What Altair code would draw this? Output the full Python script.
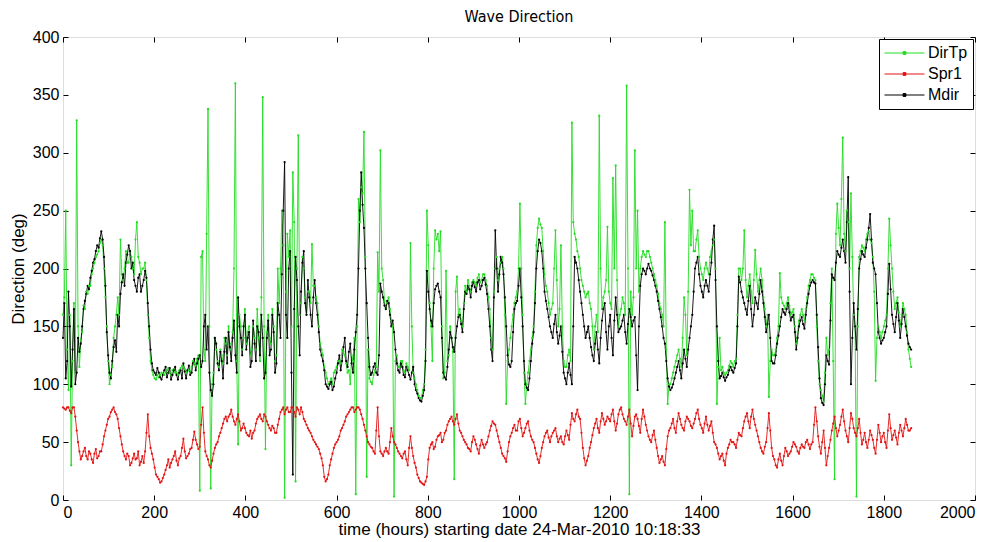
import altair as alt
import pandas as pd

# samples: values at hours 0, 6, 12, ... (main)
# and at the hours in between, 3, 9, 15, ... (mid)
main_hours = list(range(0, 1861, 6))
mid_hours = list(range(3, 1860, 6))

mdir = [
    140, 105, 180, 98, 165, 110, 128, 150, 172, 185,
    192, 205, 215, 218, 232, 210, 145, 110, 120, 138,
    160, 178, 195, 205, 220, 200, 190, 180, 195, 185,
    198, 170, 130, 112, 108, 110, 104, 112, 106, 114,
    108, 115, 104, 112, 118, 105, 116, 110, 122, 118,
    125, 120, 160, 150, 95, 100, 135, 112, 120, 128,
    118, 132, 140, 125, 175, 140, 150, 130, 145, 120,
    135, 150, 125, 140, 110, 155, 130, 145, 118, 160,
    195, 292, 140, 215, 22, 210, 150, 180, 215, 160,
    175, 150, 190, 160, 130, 120, 100, 96, 102, 98,
    110, 125, 120, 140, 115, 135, 110, 145, 200, 283,
    235, 170, 115, 110, 118, 108, 187, 175, 165, 170,
    150, 145, 118, 110, 115, 106, 112, 104, 115, 95,
    88, 85, 95, 198, 165, 150, 182, 187, 175, 110,
    104, 130, 140, 128, 150, 160, 145, 180, 185, 175,
    188, 180, 190, 185, 192, 178, 150, 120, 233, 180,
    210, 195, 150, 117, 120, 165, 172, 200, 150, 100,
    95, 120, 145, 200, 225, 215, 180, 165, 150, 140,
    160, 135, 150, 110, 100, 118, 100, 210, 200, 180,
    160, 140, 150, 132, 120, 145, 118, 155, 170, 130,
    160, 125, 175, 145, 150, 160, 135, 165, 150, 158,
    95, 185, 200, 195, 204, 198, 190, 180, 165, 150,
    135, 105, 95, 100, 110, 120, 105, 130, 115, 140,
    160, 200, 210, 185, 175, 190, 180, 205, 237, 150,
    105, 110, 103, 108, 115, 110, 118, 193, 180, 170,
    160, 185, 150, 175, 165, 190, 170, 145, 160, 120,
    118, 135, 150, 165, 160, 170, 155, 160, 130, 150,
    158, 148, 170, 185, 190, 187, 132, 88, 82, 125,
    117, 195, 190, 215, 210, 225, 205, 279, 100, 170,
    130, 200, 215, 210, 225, 247, 205, 195, 145, 135,
    140, 150, 204, 160, 145, 170, 140, 165, 150, 135, 130,
]
mdir_mid = [
    170, 120, 150, 130, 100, 140, 135, 165, 178, 182,
    198, 208, 220, 226, 225, 185, 125, 105, 132, 128,
    150, 188, 185, 212, 215, 205, 185, 192, 180, 190,
    192, 150, 118, 110, 114, 106, 108, 115, 110, 104,
    112, 108, 110, 105, 111, 112, 108, 118, 112, 122,
    115, 150, 130, 110, 90, 140, 118, 128, 105, 140,
    145, 120, 155, 110, 150, 125, 160, 140, 115, 155,
    120, 145, 160, 105, 140, 125, 160, 110, 170, 140,
    250, 160, 200, 110, 165, 190, 125, 205, 170, 190,
    160, 175, 170, 145, 125, 112, 98, 100, 95, 105,
    118, 112, 132, 120, 128, 118, 130, 160, 250, 255,
    200, 140, 108, 115, 110, 125, 180, 168, 172, 160,
    155, 130, 112, 118, 108, 115, 108, 110, 100, 92,
    86, 90, 120, 180, 155, 170, 185, 180, 140, 106,
    115, 145, 132, 140, 158, 152, 165, 178, 182, 185,
    184, 188, 182, 190, 186, 165, 130, 175, 200, 195,
    205, 175, 125, 115, 145, 170, 185, 175, 120, 97,
    105, 135, 170, 215, 222, 200, 172, 158, 145, 152,
    145, 142, 128, 105, 110, 108, 150, 205, 190, 170,
    150, 145, 140, 125, 135, 130, 140, 165, 145, 150,
    140, 155, 160, 148, 155, 145, 152, 158, 155, 125,
    150, 195, 198, 200, 200, 194, 185, 172, 158, 140,
    120, 98, 97, 105, 115, 112, 118, 122, 130, 150,
    180, 205, 195, 180, 185, 185, 195, 225, 190, 120,
    107, 106, 106, 112, 112, 114, 150, 188, 175, 165,
    172, 165, 160, 170, 178, 180, 158, 152, 140, 118,
    125, 142, 158, 162, 165, 162, 158, 145, 140, 155,
    152, 160, 178, 188, 188, 160, 105, 84, 100, 120,
    155, 192, 205, 212, 218, 215, 240, 180, 140, 150,
    165, 208, 212, 218, 235, 225, 200, 170, 140, 138,
    145, 178, 182, 152, 158, 155, 152, 158, 142, 132,
]

dirtp = [
    160, 250, 95, 30, 170, 328, 115, 145, 165, 178,
    185, 200, 210, 215, 225, 200, 150, 100, 115, 150,
    175, 225, 190, 215, 205, 210, 195, 240, 205, 200,
    205, 160, 120, 108, 104, 106, 110, 108, 112, 110,
    112, 110, 108, 114, 115, 110, 112, 115, 118, 122,
    8, 215, 120, 338, 10, 110, 130, 115, 125, 140,
    125, 130, 145, 360, 48, 150, 140, 135, 150, 130,
    140, 165, 120, 348, 44, 160, 135, 150, 125, 170,
    250, 2, 230, 233, 283, 16, 315, 170, 200, 160,
    180, 221, 185, 170, 135, 125, 110, 100, 105, 110,
    115, 120, 130, 125, 110, 100, 120, 5, 260, 270,
    318, 20, 105, 100, 112, 214, 302, 190, 165, 175,
    155, 3, 125, 115, 120, 110, 115, 222, 110, 100,
    90, 88, 100, 250, 170, 120, 233, 230, 232, 105,
    198, 125, 140, 18, 193, 165, 150, 185, 190, 180,
    190, 185, 195, 190, 195, 185, 165, 130, 200, 190,
    205, 200, 83, 130, 150, 170, 180, 256, 160, 83,
    110, 130, 150, 220, 243, 235, 195, 180, 160, 170,
    233, 150, 220, 120, 115, 130, 326, 230, 215, 200,
    185, 175, 180, 165, 130, 160, 332, 165, 180, 236,
    170, 278, 289, 150, 165, 170, 358, 5, 160, 302,
    250, 200, 215, 210, 215, 205, 195, 185, 170, 160,
    240, 83, 100, 110, 120, 130, 115, 175, 125, 268,
    250, 215, 233, 200, 190, 205, 195, 215, 225, 83,
    140, 115, 108, 112, 120, 115, 122, 200, 190, 233,
    175, 195, 170, 216, 180, 200, 175, 150, 89, 130,
    125, 140, 196, 170, 165, 175, 160, 165, 135, 155,
    165, 155, 175, 190, 195, 190, 120, 95, 85, 140,
    130, 200, 18, 256, 220, 313, 215, 240, 265, 160,
    3, 210, 220, 215, 230, 225, 210, 103, 150, 140,
    150, 160, 243, 200, 165, 175, 150, 170, 160, 130, 115,
]
dirtp_mid = [
    175, 130, 160, 120, 110, 150, 138, 168, 180, 185,
    195, 205, 212, 222, 220, 175, 120, 108, 140, 160,
    160, 195, 200, 205, 215, 200, 225, 210, 195, 200,
    190, 140, 112, 105, 108, 108, 109, 110, 114, 108,
    113, 110, 112, 116, 113, 112, 110, 120, 116, 125,
    210, 130, 230, 150, 100, 140, 120, 130, 118, 135,
    150, 135, 200, 120, 160, 130, 165, 145, 125, 150,
    130, 140, 175, 150, 145, 140, 165, 120, 200, 200,
    220, 180, 210, 150, 240, 200, 160, 210, 175, 180,
    170, 185, 175, 150, 130, 115, 105, 102, 100, 112,
    120, 118, 128, 118, 112, 125, 140, 150, 240, 265,
    210, 130, 102, 108, 115, 180, 200, 172, 170, 165,
    150, 120, 115, 120, 112, 118, 112, 150, 105, 95,
    88, 95, 130, 220, 150, 200, 225, 215, 150, 110,
    120, 150, 128, 180, 160, 155, 170, 180, 185, 188,
    188, 192, 188, 195, 190, 175, 140, 180, 210, 200,
    210, 160, 120, 140, 160, 175, 200, 200, 110, 100,
    120, 140, 180, 235, 238, 215, 185, 170, 165, 200,
    190, 165, 150, 115, 125, 120, 240, 225, 210, 190,
    180, 178, 170, 150, 150, 145, 200, 175, 190, 180,
    165, 200, 190, 160, 175, 160, 200, 180, 175, 200,
    180, 210, 212, 215, 210, 200, 190, 178, 165, 150,
    130, 100, 105, 115, 125, 122, 140, 160, 180, 220,
    215, 225, 210, 195, 200, 200, 210, 220, 200, 115,
    112, 110, 110, 116, 118, 120, 160, 200, 200, 190,
    185, 180, 190, 195, 190, 190, 165, 160, 120, 125,
    130, 150, 175, 168, 170, 168, 162, 150, 145, 160,
    160, 165, 185, 195, 192, 150, 100, 90, 110, 125,
    170, 120, 230, 235, 260, 230, 250, 200, 210, 150,
    150, 215, 218, 225, 232, 222, 180, 140, 145, 145,
    155, 200, 220, 180, 170, 162, 160, 165, 145, 122,
]

spr1 = [
    80, 78, 80, 75, 80, 60, 42, 38, 45, 35,
    40, 32, 44, 38, 42, 55, 65, 72, 78, 76,
    70, 55, 42, 35, 38, 32, 40, 36, 30, 38,
    42, 74, 45, 35, 22, 18, 16, 22, 30, 28,
    35, 42, 30, 38, 53, 36, 40, 45, 59, 48,
    46, 80, 42, 35, 28, 40, 48, 55, 62, 70,
    68, 74, 72, 65, 74, 60, 66, 58, 55, 53,
    60, 70, 74, 68, 72, 65, 60, 62, 58, 70,
    78, 74, 80, 76, 80, 72, 78, 80, 70, 65,
    60, 55, 50, 46, 40, 30, 16, 22, 35, 45,
    50, 55, 62, 68, 74, 78, 80, 78, 80, 74,
    65, 55, 48, 45, 40, 80, 42, 38, 45, 40,
    62, 50, 45, 40, 36, 42, 30, 55, 38, 28,
    19, 15, 13, 20, 45, 50, 46, 55, 58, 52,
    60, 68, 72, 65, 74, 60, 55, 50, 45, 42,
    55, 48, 40, 52, 45, 50, 60, 68, 65, 55,
    45, 38, 33, 50, 58, 65, 60, 70, 55, 62,
    68, 55, 50, 40, 32, 45, 55, 60, 50, 58,
    62, 50, 55, 48, 60, 52, 75, 68, 78, 70,
    45, 30, 38, 50, 62, 70, 58, 75, 65, 72,
    68, 78, 60, 74, 80, 70, 65, 78, 55, 72,
    70, 58, 78, 65, 55, 50, 60, 45, 32, 38,
    30, 55, 62, 70, 58, 75, 65, 60, 72, 68,
    62, 70, 78, 65, 58, 72, 60, 68, 50, 45,
    35, 40, 30, 45, 52, 50, 45, 58, 55, 68,
    75, 62, 78, 65, 55, 45, 40, 50, 75, 45,
    35, 28, 40, 30, 45, 38, 42, 50, 46, 40,
    48, 45, 52, 44, 50, 80, 55, 40, 60, 30,
    45, 60, 72, 55, 65, 78, 60, 50, 75, 62,
    55, 70, 48, 58, 45, 60, 52, 40, 65, 50,
    58, 45, 74, 52, 60, 48, 65, 55, 70, 60, 62,
]
spr1_mid = [
    79, 80, 77, 80, 72, 50, 35, 42, 38, 42,
    35, 40, 36, 42, 48, 60, 70, 76, 80, 74,
    62, 48, 38, 40, 30, 36, 35, 42, 33, 32,
    58, 55, 40, 28, 20, 15, 19, 26, 35, 32,
    38, 34, 36, 45, 42, 38, 44, 52, 52, 44,
    65, 58, 38, 30, 34, 45, 50, 58, 66, 72,
    72, 78, 68, 70, 68, 62, 62, 56, 60, 58,
    66, 72, 70, 74, 68, 62, 64, 58, 65, 76,
    80, 78, 76, 80, 76, 80, 74, 76, 68, 62,
    58, 52, 48, 44, 36, 20, 18, 30, 40, 48,
    52, 60, 65, 72, 76, 80, 76, 80, 78, 70,
    60, 50, 46, 42, 60, 55, 40, 42, 42, 50,
    55, 48, 42, 38, 40, 35, 45, 45, 32, 22,
    16, 14, 16, 35, 48, 44, 52, 56, 50, 58,
    65, 70, 68, 70, 66, 58, 52, 48, 44, 50,
    52, 44, 47, 48, 48, 55, 64, 66, 60, 50,
    40, 36, 42, 55, 62, 60, 68, 62, 58, 66,
    60, 52, 45, 35, 38, 50, 58, 54, 55, 60,
    55, 53, 50, 55, 56, 65, 70, 74, 72, 58,
    36, 34, 45, 56, 66, 62, 68, 70, 68, 70,
    74, 68, 66, 78, 74, 68, 72, 66, 64, 74,
    64, 70, 72, 60, 52, 56, 52, 38, 35, 33,
    44, 60, 66, 62, 68, 70, 62, 68, 70, 64,
    66, 75, 70, 62, 66, 65, 64, 58, 48, 40,
    38, 34, 40, 48, 50, 48, 52, 56, 62, 72,
    68, 72, 70, 60, 50, 42, 46, 62, 60, 38,
    30, 35, 34, 38, 42, 40, 46, 48, 42, 45,
    46, 50, 48, 48, 65, 68, 46, 50, 45, 38,
    52, 66, 62, 60, 72, 68, 55, 62, 70, 58,
    62, 58, 52, 50, 52, 56, 45, 52, 58, 55,
    50, 60, 62, 56, 54, 58, 60, 62, 65, 60,
]

series_names = ["DirTp", "Spr1", "Mdir"]
series_colors = ["#22dd22", "#e41414", "#000000"]
x_ticks = [0, 200, 400, 600, 800, 1000, 1200, 1400, 1600, 1800, 2000]
y_ticks = [0, 50, 100, 150, 200, 250, 300, 350, 400]

rows = []
for name, vals, mids in zip(series_names, [dirtp, spr1, mdir], [dirtp_mid, spr1_mid, mdir_mid]):
    for h, v in zip(main_hours, vals):
        rows.append({"hour": h, "value": v, "series": name})
    for h, v in zip(mid_hours, mids):
        rows.append({"hour": h, "value": v, "series": name})
df = pd.DataFrame(rows).sort_values(["series", "hour"]).reset_index(drop=True)

FONT = "Liberation Sans"
NARROW = "Liberation Sans Narrow, Arial Narrow, DejaVu Sans Condensed, Liberation Sans"

xscale = alt.Scale(domain=[0, 2000], nice=False, zero=False)
yscale = alt.Scale(domain=[0, 400], nice=False)

base = alt.Chart(df)

legend_symbol = "M-1,0H1M-0.07,-0.07H0.07V0.07H-0.07Z"

lines = base.mark_line(strokeWidth=0.9, point=alt.OverlayMarkDef(size=5, filled=True)).encode(
    x=alt.X("hour:Q", scale=xscale,
            axis=alt.Axis(values=x_ticks, format="d", orient="bottom", grid=False, domain=False,
                          offset=-5, tickSize=5, tickColor="black", labelPadding=4,
                          labelFontSize=16, labelColor="black", labelFont=FONT,
                          title="time (hours) starting date 24-Mar-2010 10:18:33",
                          titleFontSize=17, titleFontWeight="normal", titleColor="black",
                          titleFont=FONT, titlePadding=1)),
    y=alt.Y("value:Q", scale=yscale,
            axis=alt.Axis(values=y_ticks, format="d", orient="left", grid=False, domain=False,
                          offset=-5, tickSize=5, tickColor="black", labelPadding=4,
                          labelFontSize=16, labelColor="black", labelFont=FONT,
                          title="Direction (deg)", titleFontSize=17, titleFontWeight="normal",
                          titleColor="black", titleFont=FONT, titlePadding=5)),
    color=alt.Color("series:N",
                    scale=alt.Scale(domain=series_names, range=series_colors),
                    legend=alt.Legend(title=None, orient="top-right", offset=2,
                                      symbolType=legend_symbol, symbolSize=1600,
                                      symbolStrokeWidth=1, labelFontSize=16,
                                      labelFont=FONT, labelColor="black",
                                      strokeColor="black", fillColor="white",
                                      padding=5, rowPadding=3, clipHeight=18,
                                      labelOffset=3)),
    order="hour:Q",
    detail="series:N",
)

frame_axes = base.mark_line(opacity=0).encode(
    x=alt.X("hour:Q", scale=xscale,
            axis=alt.Axis(values=x_ticks, orient="top", grid=False, domain=False,
                          offset=-5, tickSize=5, tickColor="black", labels=False, title=None)),
    y=alt.Y("value:Q", scale=yscale,
            axis=alt.Axis(values=y_ticks, orient="right", grid=False, domain=False,
                          offset=-5, tickSize=5, tickColor="black", labels=False, title=None)),
    detail="series:N",
)

chart = alt.layer(frame_axes, lines).properties(
    width=912,
    height=463,
    autosize=alt.AutoSizeParams(type="none"),
    padding={"left": 63, "top": 37, "right": 24, "bottom": 42},
    title=alt.Title("Wave Direction", fontSize=16, fontWeight="normal", font=NARROW,
                    color="black", anchor="middle", offset=4),
).configure_view(stroke="black", strokeWidth=1).configure(background="white")

chart.save("out.html", embed_options={"renderer": "svg", "actions": False})
